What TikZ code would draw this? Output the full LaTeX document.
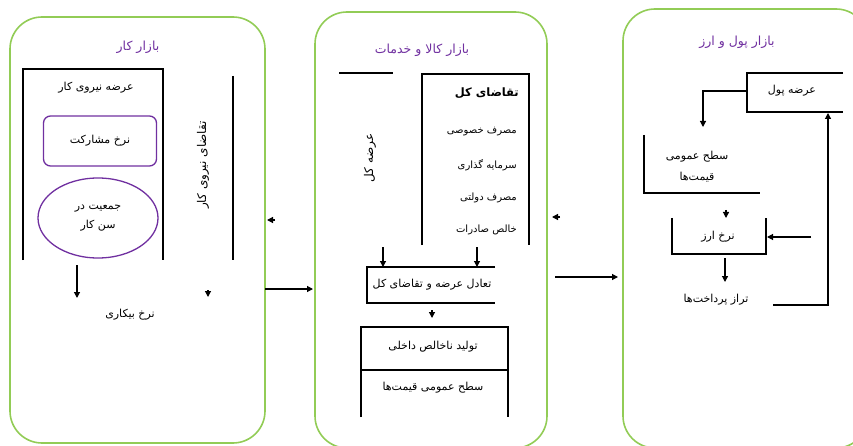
\documentclass[tikz,border=0pt]{standalone}
\usepackage{fontspec}
\usepackage{xcolor}
\usepackage{tikz}
\usetikzlibrary{arrows.meta}
\usetikzlibrary{shapes.geometric}
\TeXXeTstate=1
\newfontfamily\farsi[Script=Arabic]{DejaVu Sans}
\newcommand\fatxt[1]{{\farsi\beginR #1\endR}}
\definecolor{panelgreen}{RGB}{146,204,86}
\definecolor{titlepurple}{RGB}{112,48,160}

\begin{document}
\begin{tikzpicture}[x=1pt, y=-1pt, every node/.style={inner sep=1pt, font=\fontsize{11}{19}\selectfont}, panel/.style={draw=panelgreen, line width=1.6pt, rounded corners=32pt}, title/.style={text=titlepurple, font=\fontsize{12.5}{14}\selectfont}, item/.style={anchor=east, font=\fontsize{10}{12}\selectfont}, vtext/.style={rotate=90, font=\fontsize{12}{14}\selectfont}, line/.style={draw=black, line width=1.2pt}, arr/.style={line, -{Triangle[width=6pt,length=6pt]}}, pbox/.style={draw=titlepurple, line width=1.3pt}]
  \useasboundingbox (0,0) rectangle (853,446);
  % the three markets
  \draw[panel] (10,17) rectangle (265,443);
  \draw[panel] (315,12) rectangle (547,448);
  \draw[panel] (623,9) rectangle (868,448);
  \node[title](labT) at (138,47) {\fatxt{بازار کار}};
  \node[title](goodT) at (422,50) {\fatxt{بازار کالا و خدمات}};
  \node[title](monT) at (737,42) {\fatxt{بازار پول و ارز}};

  % labour market
  \draw[line] (23,260) |- (163,69) -- (163,260);
  \draw[line] (233,76) -- (233,260);
  \node(labS) at (96,88) {\fatxt{عرضه نیروی کار}};
  \node[pbox, rounded corners=7pt, minimum width=113pt, minimum height=50pt](part) at (100,141) {\fatxt{نرخ مشارکت}};
  \node[pbox, ellipse, minimum width=120pt, minimum height=80pt, align=center](pop) at (98,218) {\fatxt{جمعیت در}\\ \fatxt{سن کار}};
  \node[vtext](labD) at (203,165) {\fatxt{تقاضای نیروی کار}};
  \node(unemp) at (130,315) {\fatxt{نرخ بیکاری}};
  \coordinate(l1) at (77,265); \coordinate(l2) at (77,298);
  \draw[arr] (l1) -- (l2);
  \coordinate(l3) at (208,290); \coordinate(l4) at (208,297);
  \draw[arr] (l3) -- (l4);
  \coordinate(l5) at (275,220); \coordinate(l6) at (267,220);
  \draw[arr] (l5) -- (l6);
  \coordinate(l7) at (265,289); \coordinate(l8) at (313,289);
  \draw[arr] (l7) -- (l8);

  % goods market
  \draw[line] (339,73) -- (393,73);
  \node[vtext](aggS) at (370,158) {\fatxt{عرضه کل}};
  \draw[line] (422,245) |- (529,74) -- (529,245);
  \node[anchor=east, font=\fontsize{11.5}{14}\bfseries](aggD) at (520,93) {\fatxt{تقاضای کل}};
  \node[item](cons) at (518,132) {\fatxt{مصرف خصوصی}};
  \node[item](inv) at (518,165) {\fatxt{سرمایه گذاری}};
  \node[item](gov) at (518,198) {\fatxt{مصرف دولتی}};
  \node[item](nx) at (518,230) {\fatxt{خالص صادرات}};
  \draw[arr] (383,247) -- (383,267);
  \draw[arr] (477,247) -- (477,267);
  \draw[line] (495,267) -| (367,303) -- (495,303);
  \node(eq) at (432,285) {\fatxt{تعادل عرضه و تقاضای کل}};
  \coordinate(g1) at (432,310); \coordinate(g2) at (432,318);
  \draw[arr] (g1) -- (g2);
  \draw[line] (361,370) |- (508,327) -- (508,370);
  \draw[line] (361,417) |- (508,370) -- (508,417);
  \node(gdp) at (433,347) {\fatxt{تولید ناخالص داخلی}};
  \node(price) at (433,388) {\fatxt{سطح عمومی قیمت‌ها}};
  \coordinate(g3) at (560,217); \coordinate(g4) at (552,217);
  \draw[arr] (g3) -- (g4);
  \coordinate(g5) at (555,277); \coordinate(g6) at (618,277);
  \draw[arr] (g5) -- (g6);

  % money market
  \draw[line] (843,73) -| (747,112) -- (843,112);
  \node(msup) at (792,91) {\fatxt{عرضه پول}};
  \coordinate(mW) at (747,91); \coordinate(m1) at (703,127);
  \draw[arr] (mW) -| (m1);
  \draw[line] (644,135) |- (760,193);
  \node(mprice) at (697,157) {\fatxt{سطح عمومی}};
  \node(mprice2) at (697,177) {\fatxt{قیمت‌ها}};
  \coordinate(m2) at (726,210); \coordinate(m3) at (726,218);
  \draw[arr] (m2) -- (m3);
  \draw[line] (672,218) |- (766,254) -- (766,218);
  \node(exch) at (718,237) {\fatxt{نرخ ارز}};
  \coordinate(m4) at (811,237); \coordinate(m5) at (767,237);
  \draw[arr] (m4) -- (m5);
  \draw[arr] (725,258) -- (725,282);
  \node(bop) at (716,300) {\fatxt{تراز پرداخت‌ها}};
  \coordinate(m6) at (773,305); \coordinate(m7) at (828,113);
  \draw[arr] (m6) -| (m7);
\end{tikzpicture}
\end{document}
